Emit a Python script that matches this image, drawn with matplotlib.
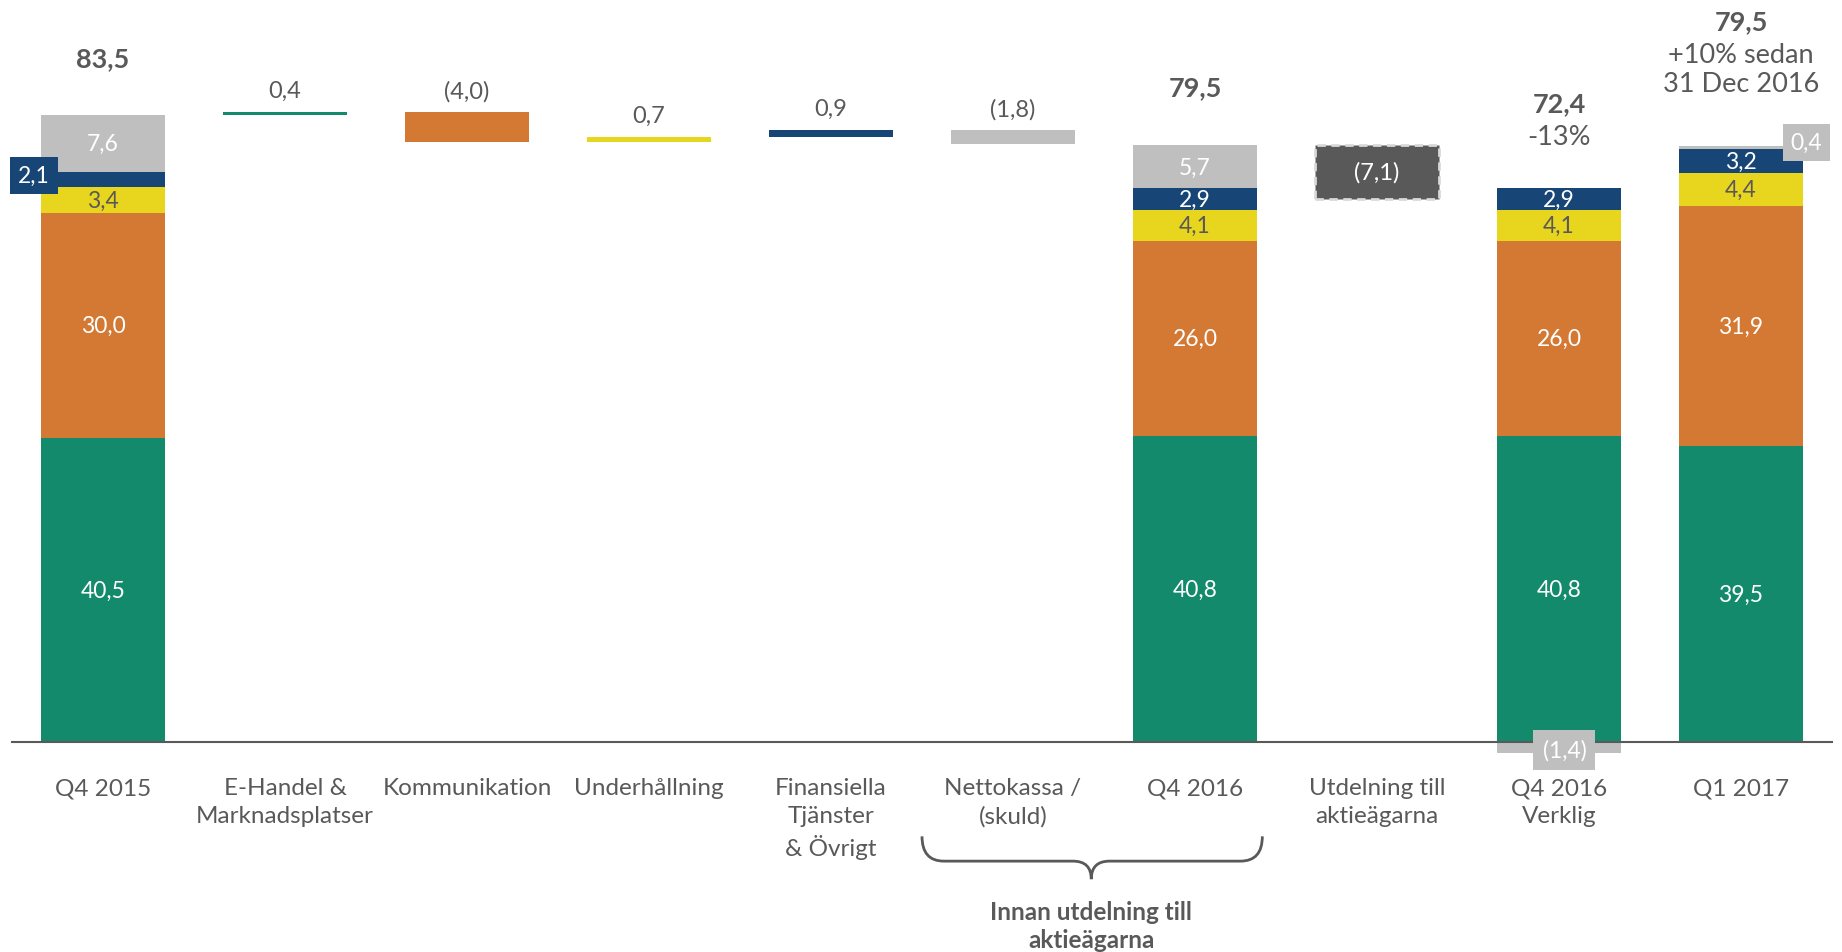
import matplotlib.pyplot as plt
from matplotlib.path import Path
from matplotlib.patches import PathPatch

plt.rcParams['font.family'] = ['Lato', 'DejaVu Sans']

categories = ['Q4 2015', 'E-Handel &\nMarknadsplatser', 'Kommunikation', 'Underhållning',
              'Finansiella\nTjänster\n& Övrigt', 'Nettokassa /\n(skuld)', 'Q4 2016',
              'Utdelning till\naktieägarna', 'Q4 2016\nVerklig', 'Q1 2017']

# stacked columns
stack_idx = [0, 6, 8, 9]
seg_green = [40.5, 40.8, 40.8, 39.5]
seg_orange = [30.0, 26.0, 26.0, 31.9]
seg_yellow = [3.4, 4.1, 4.1, 4.4]
seg_navy = [2.1, 2.9, 2.9, 3.2]
seg_gray = [7.6, 5.7, -1.4, 0.4]
totals = [83.5, 79.5, 72.4, 79.5]

# waterfall steps
delta_idx = [1, 2, 3, 4, 5]
deltas = [0.4, -4.0, 0.7, 0.9, -1.8]
dividend = -7.1

green = '#138A6C'
orange = '#D37934'
yellow = '#E8D51E'
navy = '#174575'
gray = '#BFBFBF'
dark = '#595959'
txt = '#595959'
delta_colors = [green, orange, yellow, navy, gray]


def fmt(v):
    s = f'{abs(v):.1f}'.replace('.', ',')
    return f'({s})' if v < 0 else s


fig = plt.figure(figsize=(18.42, 9.53), dpi=100)
ax = fig.add_axes([0, 0, 1, 1])
ax.axis('off')
ax.set_xlim(-0.566, 9.555)
ax.set_ylim(-27.9, 99.0)
W = 0.68

# stacked bars
for j, i in enumerate(stack_idx):
    segs = [(seg_green[j], green, 'white'), (seg_orange[j], orange, 'white'),
            (seg_yellow[j], yellow, txt), (seg_navy[j], navy, 'white'),
            (seg_gray[j], gray, 'white')]
    bottom = 0
    for v, c, tc in segs:
        b = bottom if v > 0 else 0
        ax.bar(i, abs(v), W, bottom=b if v > 0 else v, color=c, zorder=2)
        if abs(v) >= 2.5:
            ax.text(i, b + v / 2, fmt(v), ha='center', va='center', color=tc,
                    fontsize=16.5, zorder=4)
        if v > 0:
            bottom += v

# small segment labels in boxes
ax.text(-0.38, 75.5, fmt(seg_navy[0]), ha='center', va='center', color='white', fontsize=16.5,
        bbox=dict(boxstyle='square,pad=0.35', fc=navy, ec='none'), zorder=5)
ax.text(8.03, -1.0, fmt(seg_gray[2]), ha='center', va='center', color='white', fontsize=16.5,
        bbox=dict(boxstyle='square,pad=0.4', fc=gray, ec='none'), zorder=5)
ax.text(9.36, 79.9, fmt(seg_gray[3]), ha='center', va='center', color='white', fontsize=16.5,
        bbox=dict(boxstyle='square,pad=0.35', fc=gray, ec='none'), zorder=5)

# waterfall deltas
running = totals[0]
for i, v, c in zip(delta_idx, deltas, delta_colors):
    lo = running if v > 0 else running + v
    ax.bar(i, abs(v), W, bottom=lo, color=c, zorder=2)
    ax.text(i, lo + abs(v) + 2.9, fmt(v), ha='center', va='center', color=txt, fontsize=17)
    running += v

# dividend box
ax.bar(7, abs(dividend), W, bottom=totals[1] + dividend, color=dark, edgecolor='#D9D9D9',
       linestyle=(0, (3, 2)), linewidth=2, zorder=2)
ax.text(7, totals[1] + dividend / 2, fmt(dividend), ha='center', va='center', color='white',
        fontsize=17, zorder=4)

# totals
ax.text(0, 91.1, fmt(totals[0]), ha='center', va='center', color=txt, fontsize=19.5, fontweight='bold')
ax.text(6, 87.2, fmt(totals[1]), ha='center', va='center', color=txt, fontsize=19.5, fontweight='bold')
ax.text(8, 85.1, fmt(totals[2]), ha='center', va='center', color=txt, fontsize=19.5, fontweight='bold')
ax.text(8, 80.7, '-13%', ha='center', va='center', color=txt, fontsize=19.5)
ax.text(9, 96.0, fmt(totals[3]), ha='center', va='center', color=txt, fontsize=19.5, fontweight='bold')
ax.text(9, 91.6, '+10% sedan', ha='center', va='center', color=txt, fontsize=19.5)
ax.text(9, 87.7, '31 Dec 2016', ha='center', va='center', color=txt, fontsize=19.5)

# baseline
ax.plot([-0.5, 9.5], [0, 0], color='#595959', lw=1.5, zorder=3)

# category labels
for i, lab in enumerate(categories):
    ax.text(i, -4.6, lab, ha='center', va='top', color=txt, fontsize=17.5, linespacing=1.4)

# brace
x0, x1, xm = 4.5, 6.37, 5.43
yt, ym, yb = -12.5, -15.8, -18.2
verts = [(x0, yt), (x0, ym), (x0 + 0.12, ym), (xm - 0.1, ym), (xm, ym), (xm, yb),
         (xm, ym), (xm + 0.1, ym), (x1 - 0.12, ym), (x1, ym), (x1, yt)]
codes = [Path.MOVETO, Path.CURVE3, Path.CURVE3, Path.LINETO, Path.CURVE3, Path.CURVE3,
         Path.CURVE3, Path.CURVE3, Path.LINETO, Path.CURVE3, Path.CURVE3]
ax.add_patch(PathPatch(Path(verts, codes), fc='none', ec='#595959', lw=2))
ax.text(xm, -24.4, 'Innan utdelning till\naktieägarna', ha='center', va='center', color=txt,
        fontsize=17.5, fontweight='bold', linespacing=1.25)

plt.savefig('out.png', dpi=100)
